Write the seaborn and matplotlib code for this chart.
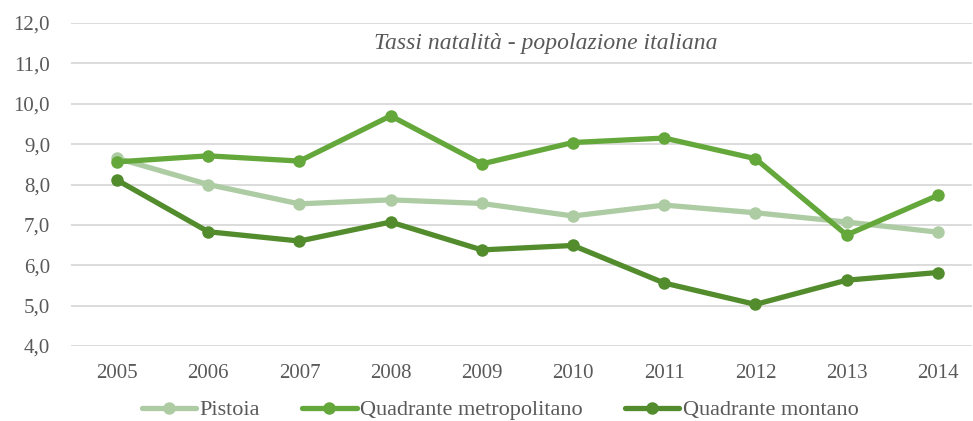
import pandas as pd
import matplotlib
matplotlib.use("Agg")
import matplotlib.pyplot as plt
import matplotlib.ticker as mticker
import seaborn as sns

#### Data ####
years = [2005, 2006, 2007, 2008, 2009, 2010, 2011, 2012, 2013, 2014]
pistoia = [8.65, 8.0, 7.52, 7.62, 7.53, 7.22, 7.49, 7.30, 7.07, 6.82]
metropolitano = [8.56, 8.71, 8.58, 9.70, 8.51, 9.04, 9.15, 8.64, 6.75, 7.73]
montano = [8.11, 6.83, 6.60, 7.07, 6.38, 6.49, 5.56, 5.03, 5.63, 5.82]
series_names = ["Pistoia", "Quadrante metropolitano", "Quadrante montano"]
colors = ["#adcca4", "#64a73a", "#528c2d"]
title = "Tassi natalità - popolazione italiana"

rows = []
for name, vals in zip(series_names, [pistoia, metropolitano, montano]):
    for i, (yr, v) in enumerate(zip(years, vals)):
        rows.append({"idx": i, "anno": yr, "serie": name, "valore": v})
df = pd.DataFrame(rows)

sns.set_theme(style="white")
plt.rcParams["font.family"] = ["Liberation Serif", "DejaVu Serif"]

fig = plt.figure(figsize=(9.73, 4.21), dpi=100)
ax = fig.add_axes([71 / 973, 1 - 346 / 421, (972 - 71) / 973, (346 - 23) / 421])

sns.lineplot(
    data=df, x="idx", y="valore", hue="serie", hue_order=series_names,
    palette=colors, marker="o", markersize=9, markeredgewidth=0,
    linewidth=3.8, ax=ax, legend=True,
)

ax.set_xlim(-0.505, 9.375)
ax.set_ylim(4, 12)
ax.set_xticks(range(len(years)))
ax.set_xticklabels([str(y) for y in years])
ax.yaxis.set_major_locator(mticker.MultipleLocator(1))
ax.yaxis.set_major_formatter(mticker.FuncFormatter(lambda v, p: f"{v:.1f}".replace(".", ",")))
ax.tick_params(axis="both", labelsize=15, colors="#595959", length=0)
ax.tick_params(axis="x", pad=13)
ax.tick_params(axis="y", pad=15)
ax.grid(True, axis="y", color="#d9d9d9", linewidth=1.3)
ax.grid(False, axis="x")
ax.set_axisbelow(True)
for s in ax.spines.values():
    s.set_visible(False)
ax.set_xlabel("")
ax.set_ylabel("")

fig.text(546 / 973, 1 - 44 / 421, title, ha="center", va="center",
         fontsize=17, style="italic", color="#595959")

handles, labels = ax.get_legend_handles_labels()
ax.legend().remove()
fig.legend(handles, labels, loc="center", bbox_to_anchor=(500 / 973, 11 / 421),
           ncol=3, frameon=False, fontsize=16, handlelength=2.45, handletextpad=0.15,
           columnspacing=1.9, labelcolor="#595959", borderpad=0)

plt.savefig("out.png", dpi=100)
plt.close(fig)
